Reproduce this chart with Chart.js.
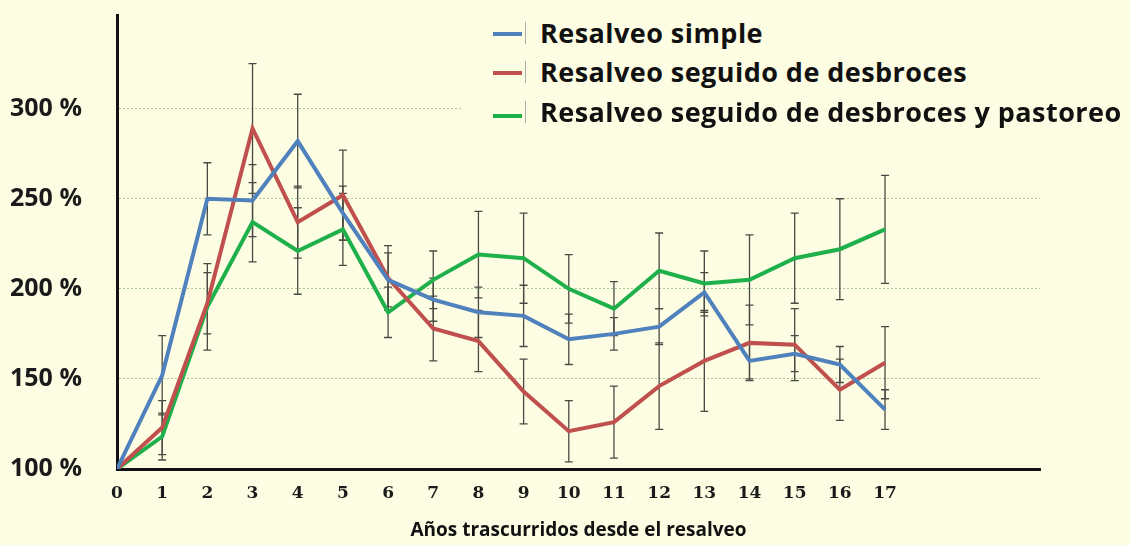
<!DOCTYPE html>
<html lang="es">
<head>
  <meta charset="UTF-8">
  <title>Resalveo</title>
  <script src="https://cdn.jsdelivr.net/npm/chart.js"></script>
  <style>
    html, body {
      margin: 0; padding: 0; background: #fdfde3;
      width: 1130px; height: 545px; overflow: hidden;
    }
    #wrap { position: relative; width: 1130px; height: 545px; }
    #legend {
      position: absolute; left: 462px; top: 12px; width: 668px; height: 118px;
      background: #fdfde3;
      font-family: "Open Sans", sans-serif; font-weight: 700; font-size: 27px; color: #111;
    }
    .row { position: absolute; left: 0; height: 40px; }
    .sw { position: absolute; left: 31px; width: 29px; height: 4px; }
    .tick { position: absolute; left: 63px; width: 1px; height: 22px; background: #aaa; }
    .lbl { position: absolute; left: 78px; white-space: nowrap; letter-spacing: 0.45px; }
  </style>
</head>
<body>
<div id="wrap">
  <canvas id="chart" width="1130" height="545"></canvas>
  <div id="legend"></div>
</div>
<script>
  // años y valores (% respecto al inicio)
  const years = [0, 1, 2, 3, 4, 5, 6, 7, 8, 9, 10, 11, 12, 13, 14, 15, 16, 17];
  const simple     = [100, 152, 250, 249, 282, 242, 205, 194, 187, 185, 172, 175, 179, 198, 160, 164, 158, 133];
  const desbroces  = [100, 123, 192, 289, 237, 252, 206, 178, 171, 143, 121, 126, 146, 160, 170, 169, 144, 159];
  const pastoreo   = [100, 118, 190, 237, 221, 233, 187, 205, 219, 217, 200, 189, 210, 203, 205, 217, 222, 233];
  // barras de error (+/-)
  const errSimple    = [0, 22, 20, 20, 26, 15, 15, 12, 14, 17, 14, 9, 10, 11, 10, 10, 10, 11];
  const errDesbroces = [0, 15, 17, 36, 20, 25, 18, 18, 17, 18, 17, 20, 24, 28, 21, 20, 17, 20];
  const errPastoreo  = [0, 13, 24, 22, 24, 20, 14, 16, 24, 25, 19, 15, 21, 18, 25, 25, 28, 30];
  const yTicks = [100, 150, 200, 250, 300];
  const seriesNames = ['Resalveo simple', 'Resalveo seguido de desbroces', 'Resalveo seguido de desbroces y pastoreo'];
  const colors = ['#4f81bd', '#c0504d', '#1fb04b'];

  const toXY = arr => arr.map((v, i) => ({ x: years[i], y: v }));

  const errorBars = {
    id: 'errorBars',
    beforeDatasetsDraw(chart) {
      const { ctx, scales: { x, y } } = chart;
      const errs = [errSimple, errDesbroces, errPastoreo];
      ctx.save();
      ctx.strokeStyle = '#4a4a44';
      ctx.lineWidth = 1.3;
      chart.data.datasets.forEach((ds, k) => {
        ds.data.forEach((p, i) => {
          const e = errs[k][i];
          if (!e) return;
          const px = x.getPixelForValue(p.x);
          const top = y.getPixelForValue(p.y + e);
          const bot = y.getPixelForValue(p.y - e);
          ctx.beginPath();
          ctx.moveTo(px, top); ctx.lineTo(px, bot);
          ctx.moveTo(px - 4, top); ctx.lineTo(px + 4, top);
          ctx.moveTo(px - 4, bot); ctx.lineTo(px + 4, bot);
          ctx.stroke();
        });
      });
      ctx.restore();
    }
  };

  new Chart(document.getElementById('chart'), {
    type: 'line',
    data: {
      datasets: [simple, desbroces, pastoreo].map((arr, k) => ({
        label: seriesNames[k],
        data: toXY(arr),
        borderColor: colors[k],
        backgroundColor: colors[k],
        borderWidth: 4,
        pointRadius: 0,
        tension: 0
      }))
    },
    options: {
      responsive: false,
      animation: false,
      layout: { padding: { left: 10, top: 10, right: 90, bottom: 0 } },
      plugins: { legend: { display: false }, tooltip: { enabled: false } },
      scales: {
        x: {
          type: 'linear', min: 0, max: 20.43,
          afterFit: s => { s.height = 76; },
          afterBuildTicks: s => { s.ticks = years.map(v => ({ value: v })); },
          grid: { display: false, drawTicks: false },
          border: { display: true, color: '#111', width: 3 },
          ticks: {
            autoSkip: false, maxRotation: 0, padding: 14, color: '#1a1a1a',
            font: { family: '"DejaVu Serif", serif', weight: 'bold', size: 17 }
          },
          title: {
            display: true, text: 'Años trascurridos desde el resalveo', color: '#111',
            font: { family: '"Open Sans", sans-serif', weight: 'bold', size: 19 },
            padding: { top: 0, bottom: 3 }
          }
        },
        y: {
          min: 100, max: 352,
          afterFit: s => { s.width = 107; },
          afterBuildTicks: s => { s.ticks = yTicks.map(v => ({ value: v })); },
          grid: {
            drawTicks: false,
            color: c => c.tick && c.tick.value === 100 ? 'rgba(0,0,0,0)' : '#a9c890'
          },
          border: { display: true, color: '#111', width: 3, dash: [2, 2] },
          ticks: {
            crossAlign: 'far', color: '#1a1a1a', padding: 0,
            callback: v => v + ' %',
            font: { family: '"Open Sans", sans-serif', weight: 'bold', size: 25 }
          }
        }
      }
    },
    plugins: [errorBars]
  });

  // leyenda
  const legend = document.getElementById('legend');
  const rowTops = [1, 40, 80];
  seriesNames.forEach((name, k) => {
    const row = document.createElement('div');
    row.className = 'row';
    row.style.top = rowTops[k] + 'px';
    row.innerHTML = `<div class="sw" style="background:${colors[k]};top:${k === 2 ? 22 : 19}px"></div>` +
      `<div class="tick" style="top:9px"></div><div class="lbl" style="top:0;line-height:40px">${name}</div>`;
    legend.appendChild(row);
  });
</script>
</body>
</html>
